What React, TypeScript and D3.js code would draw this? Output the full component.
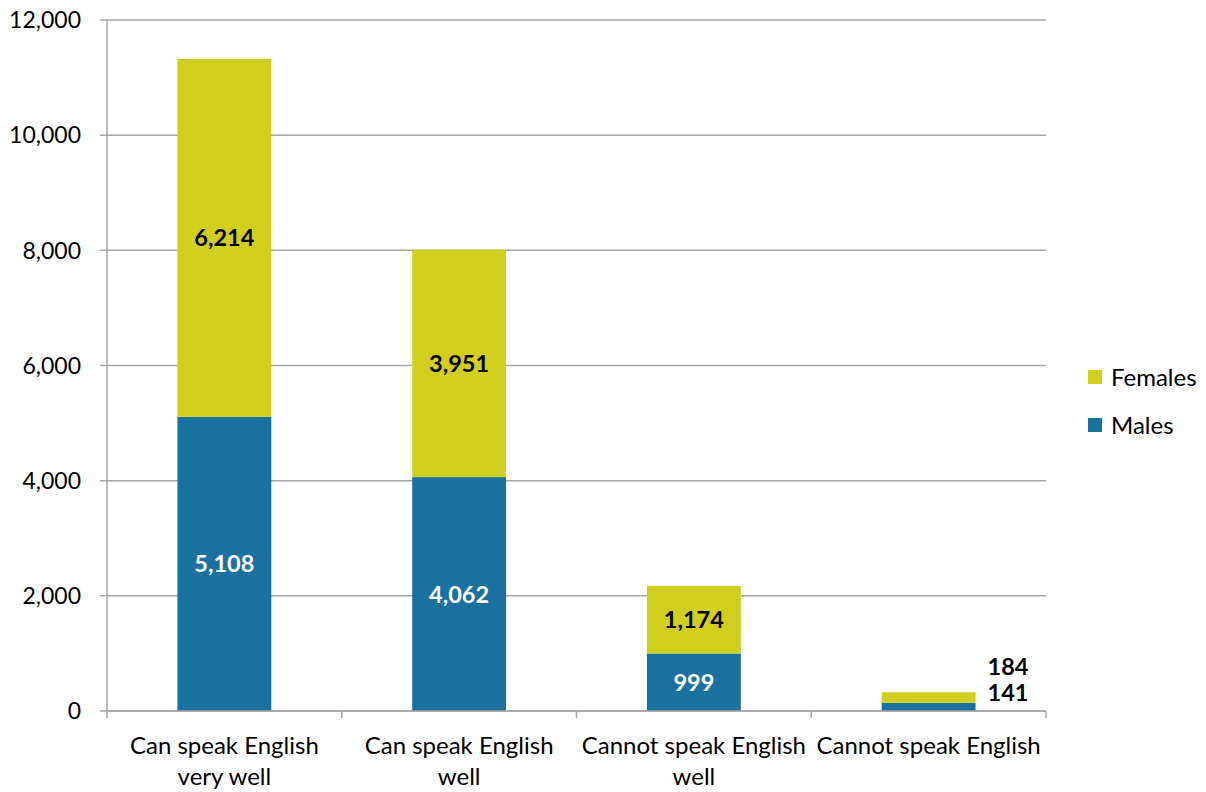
import React from "react";
import * as d3 from "d3";

const categories: string[][] = [
  ["Can speak English", "very well"],
  ["Can speak English", "well"],
  ["Cannot speak English", "well"],
  ["Cannot speak English"],
];
const males: number[] = [5108, 4062, 999, 141];
const females: number[] = [6214, 3951, 1174, 184];
const yTicks: number[] = [0, 2000, 4000, 6000, 8000, 10000, 12000];
const seriesNames = ["Females", "Males"];

const W = 1206;
const H = 792;
const left = 107;
const right = 1046;
const top = 20;
const bottom = 711;
const FONT = "Lato, 'Open Sans', sans-serif";
const YELLOW = "#D1CF1E";
const BLUE = "#1A71A0";
const GRID = "#A6A6A6";

export default function App() {
  const x = d3.scaleBand<number>().domain(d3.range(categories.length)).range([left, right]).paddingInner(0.6).paddingOuter(0.3);
  const band = d3.scaleBand<number>().domain(d3.range(categories.length)).range([left, right]);
  const y = d3.scaleLinear().domain([0, 12000]).range([bottom, top]);
  const fmt = d3.format(",");
  const stacked = categories.map((_, i) => ({ m: males[i], f: females[i] }));

  return (
    <svg width={W} height={H} style={{ position: "absolute", left: 0, top: 0, background: "#fff" }} fontFamily={FONT}>
      {/* gridlines */}
      {yTicks.map((t) => (
        <g key={t}>
          <line x1={left - 7} x2={right} y1={y(t)} y2={y(t)} stroke={GRID} strokeWidth={1.5} />
          <text x={81} y={y(t)} dy="0.36em" textAnchor="end" fontSize={23} fill="#000">
            {fmt(t)}
          </text>
        </g>
      ))}
      {/* bars */}
      {stacked.map((d, i) => {
        const bx = x(i)!;
        const bw = x.bandwidth();
        return (
          <g key={i}>
            <rect x={bx} width={bw} y={y(d.m)} height={y(0) - y(d.m)} fill={BLUE} />
            <rect x={bx} width={bw} y={y(d.m + d.f)} height={y(d.m) - y(d.m + d.f)} fill={YELLOW} />
          </g>
        );
      })}
      {/* axes */}
      <line x1={left} x2={left} y1={top} y2={bottom} stroke={GRID} strokeWidth={1.5} />
      <line x1={left} x2={right} y1={bottom} y2={bottom} stroke={GRID} strokeWidth={1.5} />
      {d3.range(categories.length + 1).map((i) => {
        const tx = i < categories.length ? band(i)! : right;
        return <line key={i} x1={tx} x2={tx} y1={bottom} y2={bottom + 7} stroke={GRID} strokeWidth={1.5} />;
      })}
      {/* data labels */}
      {stacked.map((d, i) => {
        const cx = x(i)! + x.bandwidth() / 2;
        if (i === 3) {
          const lx = x(i)! + x.bandwidth() + 12;
          return (
            <g key={i} fontWeight="bold" fontSize={23.5}>
              <text x={lx} y={y(d.m) - 36} dy="0.36em" fill="#000">{fmt(d.f)}</text>
              <text x={lx} y={y(d.m) - 10} dy="0.36em" fill="#000">{fmt(d.m)}</text>
            </g>
          );
        }
        return (
          <g key={i} fontWeight="bold" fontSize={23.5} textAnchor="middle">
            <text x={cx} y={y(d.m + d.f / 2)} dy="0.36em" fill="#000">{fmt(d.f)}</text>
            <text x={cx} y={y(d.m / 2)} dy="0.36em" fill="#fff">{fmt(d.m)}</text>
          </g>
        );
      })}
      {/* category labels */}
      {categories.map((lines, i) => {
        const cx = band(i)! + band.bandwidth() / 2;
        return (
          <text key={i} x={cx} y={754} textAnchor="middle" fontSize={24} fill="#000">
            {lines.map((l, j) => (
              <tspan key={j} x={cx} dy={j === 0 ? 0 : 31}>{l}</tspan>
            ))}
          </text>
        );
      })}
      {/* legend */}
      {seriesNames.map((s, i) => (
        <g key={s} transform={`translate(1088, ${370 + i * 48})`}>
          <rect width={14} height={14} fill={i === 0 ? YELLOW : BLUE} />
          <text x={23} y={7} dy="0.36em" fontSize={24} fill="#000">{s}</text>
        </g>
      ))}
    </svg>
  );
}
